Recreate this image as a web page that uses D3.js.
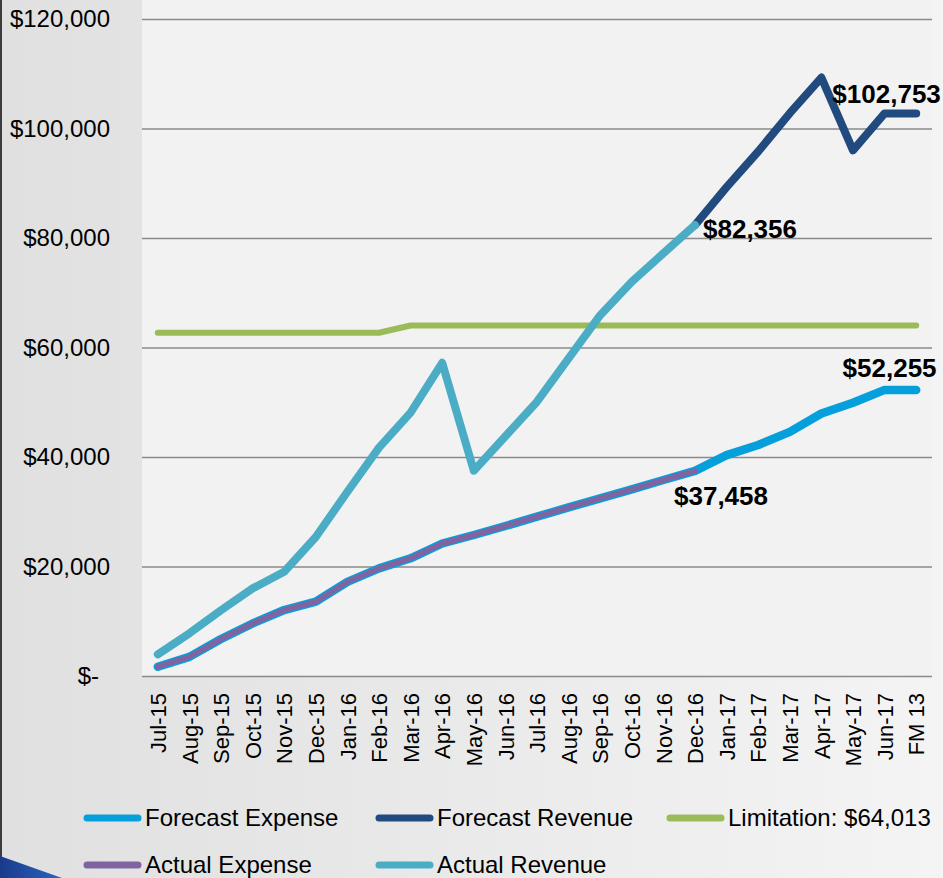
<!DOCTYPE html>
<html>
<head>
<meta charset="utf-8">
<script src="https://cdn.jsdelivr.net/npm/d3@7"></script>
<style>
  body { margin: 0; }
  svg { display: block; font-family: "Liberation Sans", Arial, sans-serif; }
</style>
</head>
<body>
<svg></svg>
<script>
const months = ['Jul-15','Aug-15','Sep-15','Oct-15','Nov-15','Dec-15','Jan-16','Feb-16','Mar-16','Apr-16','May-16','Jun-16',
  'Jul-16','Aug-16','Sep-16','Oct-16','Nov-16','Dec-16','Jan-17','Feb-17','Mar-17','Apr-17','May-17','Jun-17','FM 13'];
const forecastExpense = [1700,3500,6750,9600,12050,13570,17200,19650,21500,24200,25750,27400,29100,30800,32450,34100,35800,37458,
  40350,42200,44600,47950,49900,52255,52255];
const forecastRevenue = [null,null,null,null,null,null,null,null,null,null,null,null,null,null,null,null,null,82356,
  89300,95800,102800,109300,96000,102753,102753];
const limitation = [62700,62700,62700,62700,62700,62700,62700,62700,64013,64013,64013,64013,64013,64013,64013,64013,64013,64013,
  64013,64013,64013,64013,64013,64013,64013];
const actualExpense = [1700,3500,6750,9600,12050,13570,17200,19650,21500,24200,25750,27400,29100,30800,32450,34100,35800,37458,
  null,null,null,null,null,null,null];
const actualRevenue = [3960,7800,12000,16000,19050,25400,33650,41700,48100,57200,37500,43800,50100,58000,65900,72000,77200,82356,
  null,null,null,null,null,null,null];
const yTicks = [0,20000,40000,60000,80000,100000,120000];

const series = [
  {name: 'Forecast Expense', values: forecastExpense, color: '#05a0dc', width: 8.5},
  {name: 'Forecast Revenue', values: forecastRevenue, color: '#214a7e', width: 8},
  {name: 'Limitation: $64,013', values: limitation, color: '#9bbb59', width: 6},
  {name: 'Actual Expense', values: actualExpense, color: '#8064a2', width: 5.5},
  {name: 'Actual Revenue', values: actualRevenue, color: '#4bacc6', width: 8}
];

const W = 943, H = 878;
const plotLeft = 142, plotRight = 932, plotTop = 19, plotBottom = 676;

const svg = d3.select('svg').attr('width', W).attr('height', H);

const defs = svg.append('defs');
const bg = defs.append('linearGradient').attr('id', 'bg').attr('x1', 0).attr('x2', 1).attr('y1', 0).attr('y2', 0);
bg.append('stop').attr('offset', '0%').attr('stop-color', '#e0e0e0');
bg.append('stop').attr('offset', '100%').attr('stop-color', '#f4f4f4');
const tri = defs.append('linearGradient').attr('id', 'tri').attr('x1', 0).attr('x2', 1).attr('y1', 0).attr('y2', 0);
tri.append('stop').attr('offset', '0%').attr('stop-color', '#1a3a8c');
tri.append('stop').attr('offset', '100%').attr('stop-color', '#2a66c0');

svg.append('rect').attr('width', W).attr('height', H).attr('fill', 'url(#bg)');
svg.append('rect').attr('x', 0).attr('y', 0).attr('width', 2).attr('height', H).attr('fill', '#3c3c3c');
svg.append('path').attr('d', 'M0,856 L62,878 L0,878 Z').attr('fill', 'url(#tri)');

// plot area
svg.append('rect').attr('x', plotLeft).attr('y', 0).attr('width', plotRight - plotLeft).attr('height', plotBottom).attr('fill', '#f2f2f2');

const x = d3.scalePoint().domain(months).range([plotLeft, plotRight]).padding(0.5);
const y = d3.scaleLinear().domain([0, 120000]).range([plotBottom, plotTop]);

// gridlines + y labels
const yAxis = svg.append('g').attr('transform', 'translate(' + plotLeft + ',0)')
  .call(d3.axisLeft(y).tickValues(yTicks).tickSize(-(plotRight - plotLeft)).tickPadding(32)
    .tickFormat(d => d === 0 ? '$-' : '$' + d3.format(',')(d)));
yAxis.select('.domain').remove();
yAxis.selectAll('line').attr('stroke', '#8a8a8a').attr('stroke-width', 1.6);
yAxis.selectAll('text').attr('font-size', 24).attr('fill', '#000').attr('font-family', 'inherit');
yAxis.selectAll('text').filter(d => d === 0).attr('dx', -11);

// x labels
const xAxis = svg.append('g').attr('transform', 'translate(0,' + plotBottom + ')')
  .call(d3.axisBottom(x).tickSize(0).tickPadding(0));
xAxis.select('.domain').remove();
xAxis.selectAll('text')
  .attr('font-size', 22).attr('fill', '#000').attr('font-family', 'inherit')
  .attr('transform', 'rotate(-90)')
  .attr('text-anchor', 'end')
  .attr('x', -17).attr('y', 0).attr('dy', '0.35em');

// lines
const line = d3.line()
  .defined(d => d.v != null)
  .x(d => x(d.m))
  .y(d => y(d.v));

svg.append('g').selectAll('path')
  .data(series)
  .join('path')
  .attr('d', s => line(s.values.map((v, i) => ({m: months[i], v}))))
  .attr('fill', 'none')
  .attr('stroke', s => s.color)
  .attr('stroke-width', s => s.width)
  .attr('stroke-linecap', 'round')
  .attr('stroke-linejoin', 'round');

// data labels
const labels = [
  {m: 'Jun-17', v: forecastRevenue[23], dx: 2, dy: -10, anchor: 'middle'},
  {m: 'Dec-16', v: actualRevenue[17], dx: 8, dy: 13, anchor: 'start'},
  {m: 'Jun-17', v: forecastExpense[23], dx: 5, dy: -13, anchor: 'middle'},
  {m: 'Dec-16', v: actualExpense[17], dx: 26, dy: 34, anchor: 'middle'}
];
svg.append('g').selectAll('text')
  .data(labels)
  .join('text')
  .attr('x', d => x(d.m) + d.dx)
  .attr('y', d => y(d.v) + d.dy)
  .attr('text-anchor', d => d.anchor)
  .attr('font-size', 26)
  .attr('font-weight', 'bold')
  .attr('fill', '#000')
  .text(d => '$' + d3.format(',')(d.v));

// legend
const legendPos = [[84, 818], [376, 818], [667, 818], [84, 865], [376, 865]];
const legend = svg.append('g').selectAll('g')
  .data(series)
  .join('g')
  .attr('transform', (d, i) => 'translate(' + legendPos[i][0] + ',' + legendPos[i][1] + ')');
legend.append('line')
  .attr('x1', 3).attr('x2', 54)
  .attr('stroke', d => d.color)
  .attr('stroke-width', 7)
  .attr('stroke-linecap', 'round');
legend.append('text')
  .attr('x', 61).attr('dy', '0.35em')
  .attr('font-size', 24)
  .attr('fill', '#000')
  .text(d => d.name);
</script>
</body>
</html>
